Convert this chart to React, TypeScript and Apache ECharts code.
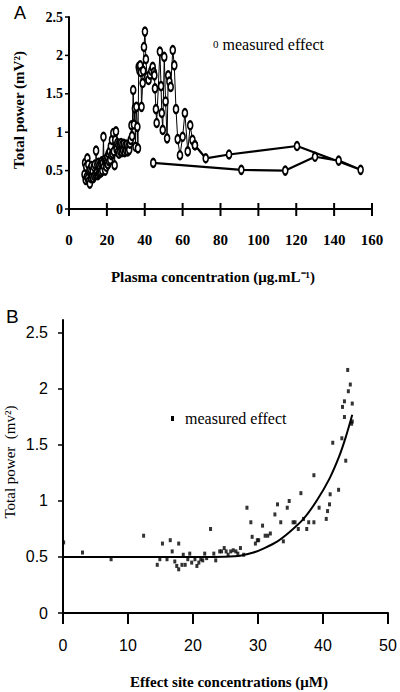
import React, { useEffect, useRef } from "react";
import * as echarts from "echarts";

// Panel A: plasma concentration (µg/mL) vs total power (mV²), in time order
const traceA: [number, number][] = [
  [8.2, 0.45], [8.5, 0.6], [8.8, 0.38], [9.1, 0.55], [9.4, 0.42], [9.7, 0.66], [10, 0.4], [10.2, 0.58], [10.5, 0.36], [10.8, 0.5], [11, 0.33], [11.3, 0.52], [11.6, 0.4], [11.9, 0.56], [12.2, 0.42], [12.5, 0.5], [12.8, 0.4],
  [13.1, 0.55], [13.4, 0.43], [13.7, 0.58], [14, 0.45], [14.3, 0.76], [14.6, 0.47], [14.9, 0.58], [15.2, 0.44], [15.5, 0.6], [15.8, 0.46], [16.1, 0.57], [16.4, 0.47], [16.7, 0.6], [17, 0.48], [17.3, 0.62], [17.6, 0.5], [17.9, 0.6], [18.2, 0.94], [18.5, 0.55], [18.8, 0.64], [19.1, 0.5], [19.4, 0.62], [19.7, 0.55],
  [20, 0.6], [20.3, 0.68], [20.6, 0.58], [20.9, 0.72], [21.2, 0.62], [21.5, 0.75], [21.8, 0.64], [22.1, 0.82], [22.4, 0.7], [22.7, 0.9], [23, 0.72], [23.4, 0.99], [23.7, 0.75], [24.1, 0.57], [24.4, 0.9], [24.8, 1.01], [25.1, 0.78],
  [25.5, 0.86], [25.8, 0.74], [26.1, 0.84], [26.4, 0.72], [26.8, 0.85], [27.1, 0.75], [27.5, 0.86], [27.9, 0.74], [28.2, 0.84], [28.6, 0.76], [29, 0.85], [29.4, 0.74], [29.8, 0.83], [30.2, 0.76], [30.6, 0.84], [31, 0.75], [31.4, 0.82], [31.8, 0.77], [32.2, 0.85],
  [32.6, 0.9], [33, 1.09], [33.3, 0.95], [33.9, 1.55], [34.3, 1.1], [34.8, 1.31], [35.1, 0.81], [35.6, 1.33], [36.1, 1.07], [36.4, 0.79], [36.8, 1.85], [37.2, 1.8], [37.6, 1.87], [38, 1.78], [38.3, 1.33], [38.9, 1.64], [39.2, 1.8], [39.6, 2.11], [40.1, 2.31],
  [40.6, 1.95], [41.3, 1.72], [42, 1.68], [42.8, 1.75], [43.5, 1.8], [44.2, 1.85], [44.8, 1.78], [45.1, 1.74], [45.4, 1.57], [45.9, 1.3], [46.3, 1.12],
  [48, 2.05], [48.6, 1.6], [49, 1.25], [49.5, 1.03], [50.3, 1.98], [51, 1.4], [51.8, 0.92], [52.4, 1.74], [53, 1.66], [53.7, 1.59], [54.8, 2.07], [55.6, 1.87], [56.5, 1.3], [57.4, 0.91], [58.6, 0.7], [60, 0.94], [61.2, 1.25], [62.7, 0.75], [64, 1.09], [65.2, 0.9], [66.5, 0.83],
];

const tailA: [number, number][] = [
  [66.5, 0.83], [72.2, 0.66], [84.5, 0.71], [120.4, 0.82], [154, 0.51], [142.4, 0.63], [129.9, 0.68], [114.2, 0.5], [91, 0.51], [44.5, 0.6],
];

// Panel B: effect site concentration (µM) vs total power
const measuredB: [number, number][] = [
  [0.1, 0.63], [3.0, 0.54], [7.4, 0.48], [12.4, 0.69], [14.5, 0.43], [14.9, 0.48], [15.3, 0.62], [16.0, 0.48], [16.5, 0.65], [16.8, 0.55], [17.2, 0.46], [17.5, 0.42], [17.8, 0.39], [17.8, 0.62], [18.3, 0.43], [18.5, 0.52], [18.8, 0.43], [19.2, 0.48], [19.5, 0.53], [19.8, 0.45],
  [20.3, 0.48], [20.6, 0.42], [20.9, 0.45], [21.2, 0.48], [21.5, 0.47], [21.8, 0.53], [22.1, 0.49], [22.7, 0.75], [23.2, 0.53], [23.5, 0.47], [24.1, 0.55], [24.4, 0.55], [24.8, 0.58], [25.1, 0.55], [25.4, 0.52], [25.8, 0.55], [26.2, 0.56], [26.6, 0.55], [26.9, 0.53], [27.3, 0.58], [27.8, 0.52],
  [28.3, 0.94], [28.9, 0.81], [29.1, 0.68], [29.6, 0.62], [29.9, 0.65], [30.1, 0.65], [30.7, 0.78], [31.1, 0.69], [31.5, 0.69], [31.9, 0.71], [32.6, 0.88], [33.0, 0.97], [33.5, 0.81], [33.9, 0.64], [34.5, 0.94], [34.8, 1.0], [35.4, 0.81], [35.7, 0.81], [36.2, 0.75], [36.6, 1.07], [37.0, 0.84], [37.5, 0.75], [37.8, 0.81], [38.6, 0.81], [38.6, 1.23], [39.4, 0.94],
  [40.5, 0.84], [40.7, 0.91], [41.0, 0.97], [41.1, 1.06], [41.5, 1.52], [42.4, 1.1], [42.9, 1.56], [43.0, 1.84], [43.3, 1.89], [43.3, 1.75], [43.5, 1.36], [43.9, 1.98], [44.2, 2.04], [43.8, 2.17], [44.5, 1.87], [44.5, 1.71], [44.4, 1.69],
];

const modelB: [number, number][] = [
  [0, 0.5], [10, 0.5], [20, 0.5], [27, 0.51], [29.3, 0.54], [31, 0.58], [33, 0.64], [35, 0.73], [37, 0.84], [39, 1.0], [41, 1.2], [42.5, 1.4], [43.5, 1.57], [44.5, 1.77],
];

const ticksXA = [0, 20, 40, 60, 80, 100, 120, 140, 160];
const ticksY = [0, 0.5, 1, 1.5, 2, 2.5];
const ticksXB = [0, 10, 20, 30, 40, 50];

const SERIF = "'Liberation Serif', 'Times New Roman', serif";
const SANS = "'Liberation Sans', Arial, sans-serif";

export default function App() {
  const ref = useRef<HTMLDivElement>(null);
  useEffect(() => {
    document.body.style.margin = "0";
    const chart = echarts.init(ref.current!, null, { renderer: "svg" });
    const axisLine = { show: true, lineStyle: { color: "#000", width: 2 } };
    chart.setOption({
      animation: false,
      backgroundColor: "#fff",
      grid: [
        { left: 69, top: 17, width: 303, height: 192 },
        { left: 63, top: 320, width: 325, height: 293 },
      ],
      xAxis: [
        {
          type: "value", gridIndex: 0, min: 0, max: 160, interval: 20,
          axisLine, splitLine: { show: false }, axisTick: { show: false },
          axisLabel: { margin: 23, color: "#000", fontFamily: SERIF, fontWeight: "bold", fontSize: 15 },
        },
        {
          type: "value", gridIndex: 1, min: 0, max: 50, interval: 10,
          axisLine, splitLine: { show: false }, axisTick: { show: false },
          axisLabel: { margin: 24, color: "#000", fontFamily: SANS, fontSize: 16 },
        },
      ],
      yAxis: [
        {
          type: "value", gridIndex: 0, min: 0, max: 2.5, interval: 0.5,
          axisLine, splitLine: { show: false }, axisTick: { show: false },
          axisLabel: { margin: 6, color: "#000", fontFamily: SERIF, fontWeight: "bold", fontSize: 14 },
        },
        {
          type: "value", gridIndex: 1, min: 0, max: 2.616,
          axisLine, splitLine: { show: false }, axisTick: { show: false },
          axisLabel: { margin: 15, color: "#000", fontFamily: SANS, fontSize: 16, customValues: ticksY },
        },
      ],
      series: [
        {
          type: "line", xAxisIndex: 0, yAxisIndex: 0, data: traceA,
          symbol: "emptyCircle", symbolSize: [5, 8],
          lineStyle: { color: "#000", width: 1 },
          itemStyle: { color: "#000", borderWidth: 1.3 },
        },
        {
          type: "line", xAxisIndex: 0, yAxisIndex: 0, data: tailA,
          symbol: "emptyCircle", symbolSize: [5, 8],
          lineStyle: { color: "#000", width: 2.2 },
          itemStyle: { color: "#000", borderWidth: 1.3 },
        },
        {
          type: "line", xAxisIndex: 1, yAxisIndex: 1, data: modelB,
          smooth: 0.3, showSymbol: false, symbol: "none",
          lineStyle: { color: "#000", width: 2 },
        },
        {
          type: "scatter", xAxisIndex: 1, yAxisIndex: 1, data: measuredB,
          symbol: "rect", symbolSize: [3, 4],
          itemStyle: { color: "#000" },
        },
      ],
    });

    // tick marks positioned through the axes' own scales
    const tickEls: any[] = [];
    const A = { xAxisIndex: 0, yAxisIndex: 0 };
    const B = { xAxisIndex: 1, yAxisIndex: 1 };
    ticksXA.forEach((v) => {
      const p = chart.convertToPixel(A, [v, 0]) as number[];
      tickEls.push({ type: "line", z: 100, shape: { x1: p[0], y1: p[1] - 6, x2: p[0], y2: p[1] + 7 }, style: { stroke: "#000", lineWidth: 2 } });
    });
    ticksY.forEach((v) => {
      const p = chart.convertToPixel(A, [0, v]) as number[];
      tickEls.push({ type: "line", z: 100, shape: { x1: p[0] - 4, y1: p[1], x2: p[0], y2: p[1] }, style: { stroke: "#000", lineWidth: 1.5 } });
    });
    ticksXB.forEach((v) => {
      const p = chart.convertToPixel(B, [v, 0]) as number[];
      tickEls.push({ type: "line", z: 100, shape: { x1: p[0], y1: p[1], x2: p[0], y2: p[1] + 11 }, style: { stroke: "#000", lineWidth: 2 } });
    });
    ticksY.forEach((v) => {
      const p = chart.convertToPixel(B, [0, v]) as number[];
      tickEls.push({ type: "line", z: 100, shape: { x1: p[0] - 5, y1: p[1], x2: p[0], y2: p[1] }, style: { stroke: "#000", lineWidth: 1.5 } });
    });

    chart.setOption({
      graphic: [
        ...tickEls,
        { type: "text", x: 14, y: 4, style: { text: "A", font: `18px ${SANS}`, fill: "#000" } },
        { type: "text", x: 6, y: 307, style: { text: "B", font: `19px ${SANS}`, fill: "#000" } },
        {
          type: "text", x: 19, y: 110, rotation: Math.PI / 2,
          style: { text: "Total power (mV²)", font: `bold 15px ${SERIF}`, fill: "#000", align: "center", verticalAlign: "middle" },
        },
        {
          type: "text", x: 213, y: 277,
          style: { text: "Plasma concentration (μg.mL⁻¹)", font: `bold 15px ${SERIF}`, fill: "#000", align: "center", verticalAlign: "middle" },
        },
        {
          type: "text", x: 213, y: 44,
          style: {
            text: "{s|0} measured effect", font: `16px ${SERIF}`, fill: "#000",
            rich: { s: { font: `11px ${SERIF}`, fill: "#000" } },
            align: "left", verticalAlign: "middle",
          },
        },
        {
          type: "text", x: 10, y: 462, rotation: Math.PI / 2,
          style: { text: "Total power  (mv²)", font: `15px ${SERIF}`, fill: "#000", align: "center", verticalAlign: "middle" },
        },
        {
          type: "text", x: 229, y: 682,
          style: { text: "Effect site concentrations (μM)", font: `bold 15px ${SERIF}`, fill: "#000", align: "center", verticalAlign: "middle" },
        },
        { type: "rect", shape: { x: 171, y: 416, width: 3, height: 5 }, style: { fill: "#000" } },
        {
          type: "text", x: 185, y: 418,
          style: { text: "measured effect", font: `16px ${SERIF}`, fill: "#000", align: "left", verticalAlign: "middle" },
        },
      ],
    });
    return () => chart.dispose();
  }, []);
  return <div ref={ref} style={{ width: 400, height: 692 }} />;
}
